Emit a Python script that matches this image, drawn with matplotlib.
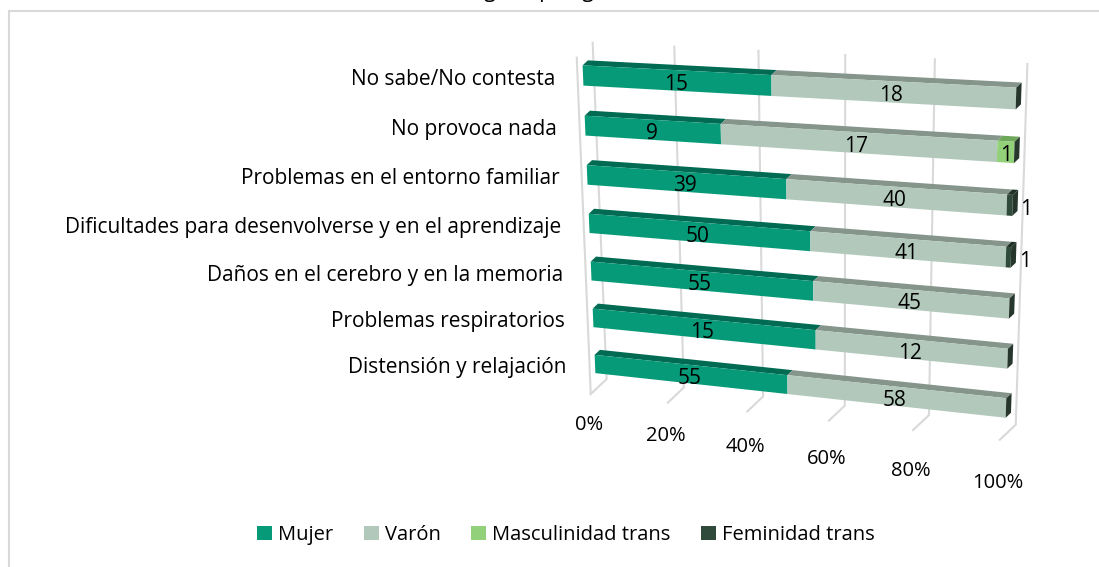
import numpy as np
import matplotlib.pyplot as plt
from matplotlib.patches import Polygon, Patch, Rectangle

plt.rcParams['font.family'] = ['Open Sans', 'DejaVu Sans']

# data
categories = ['No sabe/No contesta', 'No provoca nada', 'Problemas en el entorno familiar',
              'Dificultades para desenvolverse y en el aprendizaje',
              'Daños en el cerebro y en la memoria', 'Problemas respiratorios',
              'Distensión y relajación']
mujer = [15, 9, 39, 50, 55, 15, 55]
varon = [18, 17, 40, 41, 45, 12, 58]
masc_trans = [0, 1, 0, 0, 0, 0, 0]
fem_trans = [0, 0, 1, 1, 0, 0, 0]
series_names = ['Mujer', 'Varón', 'Masculinidad trans', 'Feminidad trans']
ticks = [0, 20, 40, 60, 80, 100]
tick_labels = ['0%', '20%', '40%', '60%', '80%', '100%']

front_col = ['#079a78', '#b1c8bb', '#92d07a', '#2f4a3a']
top_col = ['#006b52', '#85958c', '#6ea85a', '#1f3026']
end_col = '#27362d'
grid_col = '#d9d9d9'

W, H = 1099, 567

# perspective of the 3-D chart: (percent, category) plane of the bar fronts -> pixels
src = np.array([[0, 0], [100, 0], [0, 6], [100, 6]], float)
dst = np.array([[583, 75.5], [1016, 98.5], [595, 364], [1006, 408]], float)


def homography(src, dst):
    A = []
    for (x, y), (X, Y) in zip(src, dst):
        A.append([x, y, 1, 0, 0, 0, -X * x, -X * y, -X])
        A.append([0, 0, 0, x, y, 1, -Y * x, -Y * y, -Y])
    _, _, vt = np.linalg.svd(np.array(A))
    return vt[-1].reshape(3, 3)


Hm = homography(src, dst)
depth = np.array([5.3, -5.0])  # one bar depth, pointing back


def proj(u, w, z=0.0):
    p = Hm @ np.array([u, w, 1.0])
    return np.array([p[0] / p[2], p[1] / p[2]]) + z * depth


w_top, w_bot = -0.45, 6.55
bw = 0.4

fig = plt.figure(figsize=(W / 100, H / 100), dpi=100)
ax = fig.add_axes([0, 0, 1, 1])
ax.set_xlim(0, W)
ax.set_ylim(H, 0)
ax.axis('off')

# chart border (cropped screenshot: only left and top edges show)
fig.patches.append(Rectangle((9 / W, -0.1), 1.2, 1.1 - 11 / H, transform=fig.transFigure,
                             fill=False, edgecolor='#d9d9d9', lw=1.5))

# title, mostly cut off at the top like in the screenshot
fig.text(0.5, 1 + 3 / H, 'Según tipología, %', ha='center', va='baseline', fontsize=15)

# walls and floor gridlines
a, b = proj(0, w_top, -1), proj(0, w_bot, -1)
ax.plot([a[0], b[0]], [a[1], b[1]], color=grid_col, lw=1.5, zorder=1)
for t, lab in zip(ticks, tick_labels):
    p1, p2, p3 = proj(t, w_top, 2), proj(t, w_bot, 2), proj(t, w_bot, -1)
    ax.plot([p1[0], p2[0], p3[0]], [p1[1], p2[1], p3[1]], color=grid_col, lw=1.5, zorder=1)
    ax.text(p3[0] - 2, p3[1] + 31 + 0.12 * t, lab, ha='center', va='center', fontsize=14.5)

# bars
values = np.array([mujer, varon, masc_trans, fem_trans], float).T
for i, row in enumerate(values):
    pct = row / row.sum() * 100
    left = np.concatenate([[0], np.cumsum(pct)[:-1]])
    yt, yb = i - bw / 2, i + bw / 2
    for k in range(len(row)):
        if row[k] == 0:
            continue
        u0, u1 = left[k], left[k] + pct[k]
        topf = [proj(u0, yt), proj(u1, yt), proj(u1, yt, 1), proj(u0, yt, 1)]
        ax.add_patch(Polygon(topf, closed=True, facecolor=top_col[k], edgecolor='none', zorder=2))
        face = [proj(u0, yt), proj(u1, yt), proj(u1, yb), proj(u0, yb)]
        ax.add_patch(Polygon(face, closed=True, facecolor=front_col[k], edgecolor='none', zorder=3))
        c = proj((u0 + u1) / 2, i)
        if k == 3:
            e = proj(100, i)
            ax.text(e[0] + 8, e[1] + 4, f'{int(row[k])}', ha='left', va='center', fontsize=15, zorder=5)
        else:
            ax.text(c[0], c[1] + 4, f'{int(row[k])}', ha='center', va='center', fontsize=15, zorder=5)
    cap = [proj(100, yt), proj(100, yt, 1), proj(100, yb, 1), proj(100, yb)]
    ax.add_patch(Polygon(cap, closed=True, facecolor=end_col, edgecolor='none', zorder=4))

    lp = proj(0, i)
    ax.text(lp[0] - 28, lp[1] + 4, categories[i], ha='right', va='center', fontsize=15)

handles = [Patch(facecolor=c, edgecolor='none') for c in front_col]
fig.legend(handles, series_names, loc='center', bbox_to_anchor=(0.515, 1 - 535 / H), ncol=4,
           frameon=False, fontsize=14.5, handlelength=0.75, handleheight=0.75,
           handletextpad=0.3, columnspacing=1.5)

fig.savefig('out.png', dpi=100)
